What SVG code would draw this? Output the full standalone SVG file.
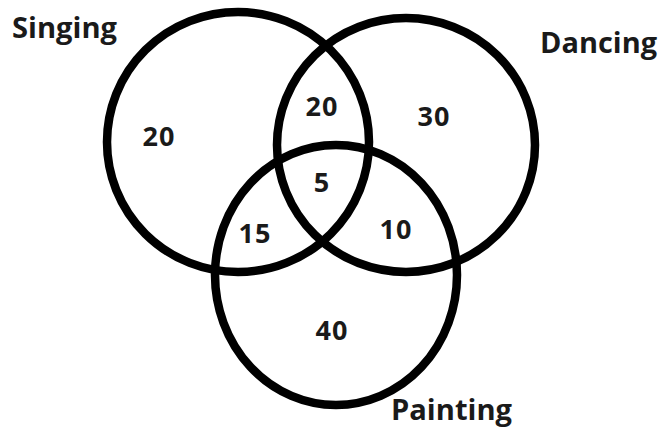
<svg xmlns="http://www.w3.org/2000/svg" width="659" height="430" viewBox="0 0 659 430">
<style>
.set{fill:none;stroke:#000;stroke-width:8.5}
.lbl{font-family:"Open Sans","DejaVu Sans",sans-serif;font-weight:bold;font-size:28px;fill:#1a1a1a}
.num{font-family:"Open Sans","DejaVu Sans",sans-serif;font-weight:bold;font-size:27px;fill:#1a1a1a;text-anchor:middle;letter-spacing:1px}
</style>
<rect width="659" height="430" fill="#fff"/>
<g id="singing">
<ellipse class="set" cx="238" cy="142" rx="131" ry="130"/>
<text class="lbl" x="12" y="38" textLength="105" lengthAdjust="spacingAndGlyphs">Singing</text>
</g>
<g id="dancing">
<ellipse class="set" cx="406" cy="145" rx="129" ry="127"/>
<text class="lbl" x="540" y="53" textLength="117" lengthAdjust="spacingAndGlyphs">Dancing</text>
</g>
<g id="painting">
<ellipse class="set" cx="336" cy="275" rx="121" ry="130"/>
<text class="lbl" x="391" y="420" textLength="121" lengthAdjust="spacingAndGlyphs">Painting</text>
</g>
<g id="counts">
<text class="num" x="159" y="146">20</text>
<text class="num" x="322" y="116">20</text>
<text class="num" x="434" y="126">30</text>
<text class="num" x="322" y="192">5</text>
<text class="num" x="255" y="243">15</text>
<text class="num" x="396" y="239">10</text>
<text class="num" x="332" y="340">40</text>
</g>
</svg>
